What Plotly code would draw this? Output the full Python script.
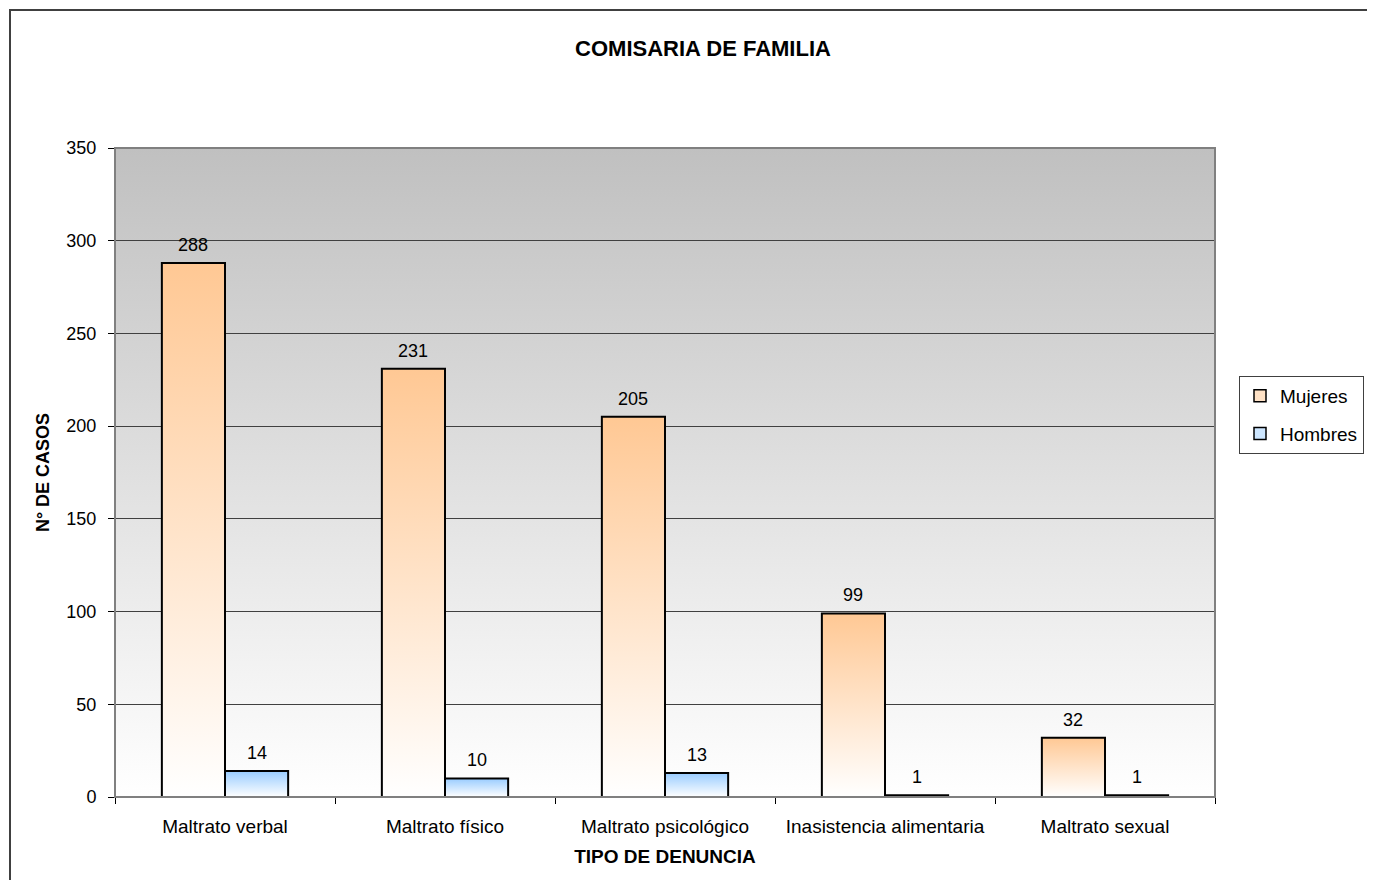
import base64
import plotly.graph_objects as go

categories = ["Maltrato verbal", "Maltrato físico", "Maltrato psicológico",
              "Inasistencia alimentaria", "Maltrato sexual"]
mujeres = [288, 231, 205, 99, 32]
hombres = [14, 10, 13, 1, 1]
series_names = ["Mujeres", "Hombres"]
y_ticks = [0, 50, 100, 150, 200, 250, 300, 350]

FONT = "Liberation Sans, Arial, sans-serif"
BAR_W = 0.287
colors = {"Mujeres": "#FFC894", "Hombres": "#99CCFF"}
legend_fill = {"Mujeres": "#FFE2C6", "Hombres": "#CDE6FF"}

# page has an 8px body margin; figure coordinates below are page - 8
L, R, T, B = 107, 168, 140, 91
PW, PH = 1375 - L - R, 880 - T - B

fig = go.Figure()

annotations = []
for s_idx, (name, values) in enumerate(zip(series_names, [mujeres, hombres])):
    for i, v in enumerate(values):
        x0 = i - BAR_W if s_idx == 0 else i
        x1 = i if s_idx == 0 else i + BAR_W
        fig.add_trace(go.Scatter(
            x=[x0, x0, x1, x1, x0], y=[0, v, v, 0, 0],
            mode="lines", fill="toself",
            fillgradient=dict(type="vertical",
                              colorscale=[[0, "#FFFFFF"], [1, colors[name]]]),
            line=dict(color="#000000", width=2),
            hoverinfo="skip", showlegend=False))
        annotations.append(dict(
            x=(x0 + x1) / 2, y=v, xref="x", yref="y", text=str(v),
            showarrow=False, yanchor="bottom", yshift=6,
            font=dict(family=FONT, size=18, color="#000000")))
    # legend entry
    fig.add_trace(go.Scatter(
        x=[None], y=[None], mode="markers", name=name,
        legendgroup=name,
        marker=dict(symbol="square", size=12, color=legend_fill[name],
                    line=dict(color="#000000", width=1.5))))

# gradient background for the plot area
svg = ('<svg xmlns="http://www.w3.org/2000/svg" width="100" height="100" '
       'preserveAspectRatio="none"><defs><linearGradient id="g" x1="0" y1="0" '
       'x2="0" y2="1"><stop offset="0" stop-color="#C0C0C0"/>'
       '<stop offset="1" stop-color="#FFFFFF"/></linearGradient></defs>'
       '<rect width="100" height="100" fill="url(#g)"/></svg>')
svg_uri = "data:image/svg+xml;base64," + base64.b64encode(svg.encode()).decode()

fig.update_layout(
    width=1375, height=880,
    margin=dict(l=L, r=R, t=T, b=B),
    paper_bgcolor="#FFFFFF",
    plot_bgcolor="rgba(0,0,0,0)",
    font=dict(family=FONT, size=18, color="#000000"),
    title=dict(text="<b>COMISARIA DE FAMILIA</b>", x=695 / 1375, xref="container",
               xanchor="center", y=1 - 40 / 880, yref="container",
               yanchor="middle", font=dict(family=FONT, size=22)),
    images=[dict(source=svg_uri, xref="paper", yref="paper", x=0, y=1,
                 sizex=1, sizey=1, sizing="stretch", layer="below",
                 xanchor="left", yanchor="top")],
    showlegend=True,
    legend=dict(x=(1231 - L) / PW, y=(880 - B - 368) / PH,
                xanchor="left", yanchor="top",
                bordercolor="#404040", borderwidth=1, bgcolor="#FFFFFF",
                font=dict(family=FONT, size=19), tracegroupgap=10,
                itemwidth=30),
    annotations=annotations,
    shapes=[
        dict(type="rect", xref="paper", yref="paper", x0=0, x1=1, y0=0, y1=1,
             line=dict(color="#808080", width=2), layer="above"),
        dict(type="rect", xref="paper", yref="paper",
             x0=(2 - L) / PW, x1=(1390 - L) / PW,
             y0=(880 - B - 895) / PH, y1=(880 - B - 2) / PH,
             line=dict(color="#404040", width=2), layer="below"),
    ],
)

fig.update_xaxes(
    range=[-0.5, len(categories) - 0.5],
    tickvals=list(range(len(categories))), ticktext=categories,
    ticks="", showgrid=False, zeroline=False,
    showline=True, linecolor="#000000", linewidth=1,
    tickfont=dict(family=FONT, size=19), ticklabelstandoff=12,
    minor=dict(tickvals=[i - 0.5 for i in range(len(categories) + 1)],
               ticks="outside", ticklen=6, tickcolor="#000000", showgrid=False),
    title=dict(text="<b>TIPO DE DENUNCIA</b>", font=dict(family=FONT, size=19),
               standoff=13),
)
fig.update_yaxes(
    range=[0, 350], tickvals=y_ticks,
    ticks="outside", ticklen=6, tickcolor="#000000",
    showgrid=True, gridcolor="#404040", gridwidth=1, zeroline=False,
    showline=True, linecolor="#000000", linewidth=1,
    tickfont=dict(family=FONT, size=18), ticklabelstandoff=8,
    title=dict(text="<b>N° DE CASOS</b>", font=dict(family=FONT, size=18),
               standoff=12),
)

fig.write_html("out.html")
